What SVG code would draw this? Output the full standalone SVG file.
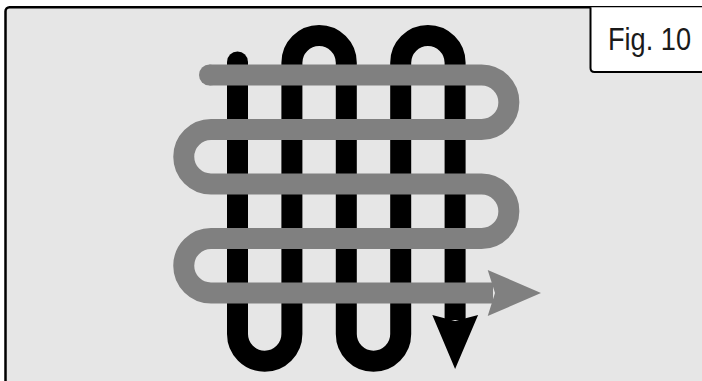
<svg xmlns="http://www.w3.org/2000/svg" width="702" height="381" viewBox="0 0 702 381">
  <style>
    .frame { fill: #e6e6e6; stroke: #000; stroke-width: 2.5; }
    .label-edge { fill: none; stroke: #000; stroke-width: 2; }
    .label { font-family: "Liberation Sans", Arial, sans-serif; font-size: 32px; fill: #1a1a1a; }
    .black-strand { fill: none; stroke: #000; stroke-width: 21; }
    .gray-strand { fill: none; stroke: #808080; stroke-width: 21; }
  </style>
  <rect width="702" height="381" fill="#fff"/>
  <rect class="frame" x="5.5" y="7.3" width="760" height="420" rx="4"/>

  <g id="fig-label">
    <path d="M590.5,7.3 V68 Q590.5,72 594.5,72 H702 V7.3 Z" fill="#fff"/>
    <path class="label-edge" d="M590.5,7.3 V68 Q590.5,72 594.5,72 H710"/>
    <text class="label" x="608" y="50" textLength="83" lengthAdjust="spacingAndGlyphs">Fig. 10</text>
  </g>

  <g id="connectors">
    <g id="black-path">
      <path class="black-strand" d="M237.5,62 V334 A27.2,27.2 0 0 0 291.9,334 V62.7 A27.2,27.2 0 0 1 346.3,62.7 V334 A27.2,27.2 0 0 0 400.7,334 V62.7 A27.2,27.2 0 0 1 455.1,62.7 V320"/>
      <circle cx="237.5" cy="62" r="10.5" fill="#000"/>
      <polygon points="432.3,315 455.1,321 478.1,315 455.1,369" fill="#000"/>
    </g>
    <g id="gray-path">
      <path class="gray-strand" d="M209.5,75 H481.6 A27.25,27.25 0 0 1 481.6,129.5 H211 A27.25,27.25 0 0 0 211,184 H481.6 A27.25,27.25 0 0 1 481.6,238.5 H211 A27.25,27.25 0 0 0 211,293 H493"/>
      <circle cx="209.5" cy="75" r="10.5" fill="#808080"/>
      <polygon points="487.7,270 541,293 487.7,316 495,293" fill="#808080"/>
    </g>
  </g>
</svg>
